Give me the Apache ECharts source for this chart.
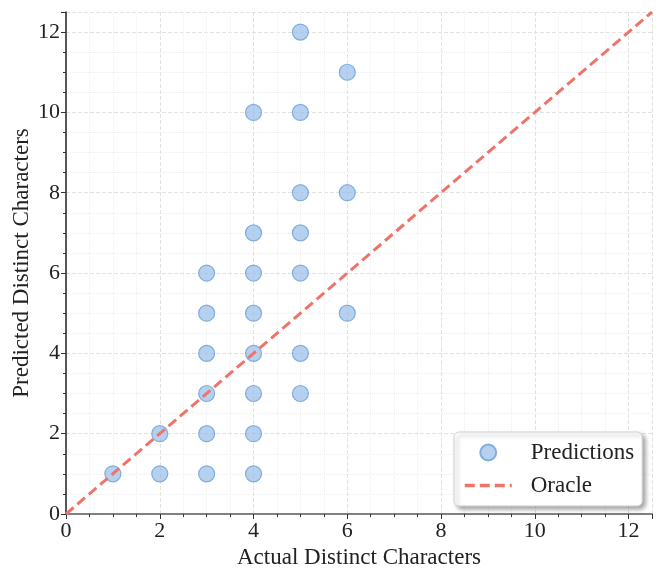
<!DOCTYPE html>
<html>
<head>
<meta charset="utf-8">
<script src="https://cdn.jsdelivr.net/npm/echarts@6/dist/echarts.min.js"></script>
<style>
  html, body { margin: 0; padding: 0; background: #fff; }
  #chart { width: 664px; height: 581px; }
</style>
</head>
<body>
<div id="chart"></div>
<script>
// actual vs predicted distinct characters
const actual =    [1, 2, 2, 3, 3, 3, 3, 3, 3, 4, 4, 4, 4, 4, 4, 4, 4, 5, 5, 5, 5, 5, 5, 5, 6, 6, 6];
const predicted = [1, 1, 2, 1, 2, 3, 4, 5, 6, 1, 2, 3, 4, 5, 6, 7, 10, 3, 4, 6, 7, 8, 10, 12, 5, 8, 11];
const oracleX = [0, 12.5];
const oracleY = [0, 12.5];

const font = '"Liberation Serif", "DejaVu Serif", serif';

var myChart = echarts.init(document.getElementById('chart'));

function axis(name, gap, lineColor, lineWidth) {
    return {
        type: 'value',
        name: name,
        nameLocation: 'middle',
        nameGap: gap,
        nameTextStyle: { fontFamily: font, fontSize: 23, color: '#222' },
        min: 0,
        max: 12.5,
        interval: 2,
        axisLine: { show: true, lineStyle: { color: lineColor, width: lineWidth } },
        axisTick: { show: true, inside: false, length: 5, lineStyle: { color: '#333' } },
        minorTick: { show: true, splitNumber: 4, length: 3, lineStyle: { color: '#333' } },
        axisLabel: { fontFamily: font, fontSize: 22, color: '#222', margin: 6,
            showMaxLabel: false },
        splitLine: { show: true, lineStyle: { color: '#e2e2e2', type: 'dashed', width: 1 } },
        minorSplitLine: { show: true, lineStyle: { color: '#efefef', type: 'dotted', width: 1 } }
    };
}

let yAxis = axis('Predicted Distinct Characters', 33, '#222', 1.5);
yAxis.nameMoveOverlap = false;

let option = {
    animation: false,
    grid: { left: 66, right: 12, top: 12, bottom: 67, outerBoundsMode: 'none', containLabel: false },
    xAxis: axis('Actual Distinct Characters', 32, '#808080', 2.2),
    yAxis: yAxis,
    legend: {
        left: 454,
        top: 432,
        orient: 'vertical',
        itemWidth: 47,
        itemHeight: 16,
        itemGap: 10,
        padding: [9, 8, 9, 9],
        backgroundColor: '#fff',
        borderColor: '#cfcfcf',
        borderWidth: 1,
        borderRadius: 5,
        shadowColor: 'rgba(0,0,0,0.35)',
        shadowBlur: 4,
        shadowOffsetX: 3,
        shadowOffsetY: 3,
        textStyle: { fontFamily: font, fontSize: 23, color: '#222', padding: [0, 0, 0, 14] },
        data: [
            { name: 'Predictions', icon: 'circle' },
            { name: 'Oracle', itemStyle: { opacity: 0 }, lineStyle: { width: 3.5 } }
        ]
    },
    series: [
        {
            name: 'Predictions',
            type: 'scatter',
            symbolSize: 16,
            itemStyle: { color: 'rgba(146,188,232,0.85)', borderColor: '#6a9fd8', borderWidth: 1.2 },
            data: actual.map((x, i) => [x, predicted[i]]),
            z: 2
        },
        {
            name: 'Oracle',
            type: 'line',
            symbol: 'none',
            lineStyle: { color: '#f0736a', width: 3, type: [10, 5] },
            itemStyle: { color: '#f0736a' },
            data: oracleX.map((x, i) => [x, oracleY[i]]),
            z: 3
        }
    ]
};

myChart.setOption(option);
</script>
</body>
</html>
